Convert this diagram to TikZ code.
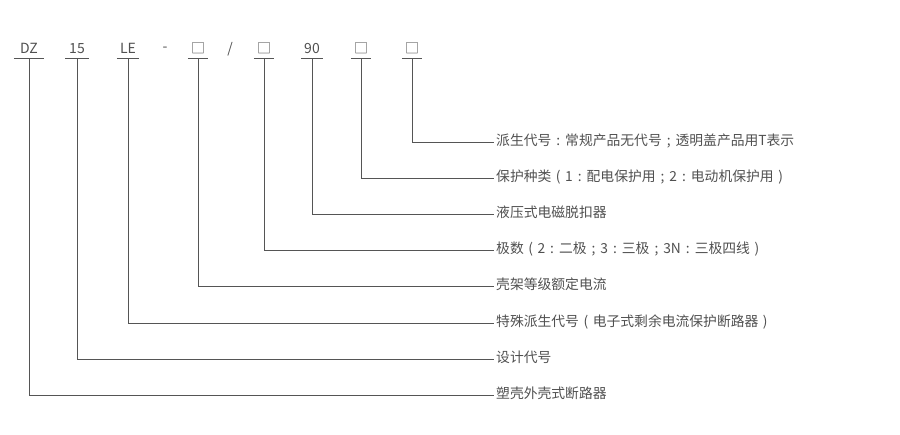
\documentclass[tikz,border=0pt]{standalone}
\usepackage{fontspec}
\setmainfont{Noto Sans CJK SC}
\definecolor{linegray}{HTML}{555555}
\definecolor{textgray}{HTML}{505050}
% 全角标点（居中）
\newcommand{\qcolon}{\makebox[1em][c]{:}}
\newcommand{\qsemi}{\makebox[1em][c]{;}}
\newcommand{\qlpar}{\makebox[1em][c]{(}}
\newcommand{\qrpar}{\makebox[1em][c]{)}}
\tikzset{
  code/.style={text=textgray, font=\fontsize{14}{16}\selectfont, text height=10pt, text depth=0pt, inner xsep=3pt, inner ysep=4pt},
  sep/.style={text=textgray, font=\fontsize{14}{16}\selectfont, inner sep=0pt},
  desc/.style={anchor=west, text=textgray, font=\fontsize{13.8}{16}\selectfont, inner sep=0pt, text height=10pt, text depth=2.5pt},
  lead/.style={draw=linegray, line width=0.9pt}
}
\begin{document}
\begin{tikzpicture}[x=1pt, y=-1pt]
    \useasboundingbox (0,0) rectangle (900,435);

    % 1. 型号各段
    \node[code, inner xsep=6pt] (dz) at (29,49) {DZ};
    \node[code, inner xsep=4pt] (frame) at (77,49) {15};
    \node[code] (le) at (128,49) {LE};
    \node[sep] (dash) at (165,49) {-};
    \node[code] (cur) at (198,49) {□};
    \node[sep] (slash) at (230,49) {/};
    \node[code] (pole) at (264,49) {□};
    \node[code] (hyd) at (312,49) {90};
    \node[code] (prot) at (361,49) {□};
    \node[code] (der) at (412,49) {□};

    % 2. 下划线
    \draw[lead] (dz.south west) -- (dz.south east);
    \draw[lead] (frame.south west) -- (frame.south east);
    \draw[lead] (le.south west) -- (le.south east);
    \draw[lead] (cur.south west) -- (cur.south east);
    \draw[lead] (pole.south west) -- (pole.south east);
    \draw[lead] (hyd.south west) -- (hyd.south east);
    \draw[lead] (prot.south west) -- (prot.south east);
    \draw[lead] (der.south west) -- (der.south east);

    % 3. 说明文字
    \node[desc] (tder) at (496,142) {派生代号\qcolon 常规产品无代号\qsemi 透明盖产品用T表示};
    \node[desc] (tprot) at (496,178) {保护种类\qlpar 1\qcolon 配电保护用\qsemi 2\qcolon 电动机保护用\qrpar};
    \node[desc] (thyd) at (496,214) {液压式电磁脱扣器};
    \node[desc] (tpole) at (496,250) {极数\qlpar 2\qcolon 二极\qsemi 3\qcolon 三极\qsemi 3N\qcolon 三极四线\qrpar};
    \node[desc] (tcur) at (496,286) {壳架等级额定电流};
    \node[desc] (tle) at (496,323) {特殊派生代号\qlpar 电子式剩余电流保护断路器\qrpar};
    \node[desc] (tframe) at (496,359) {设计代号};
    \node[desc] (tdz) at (496,395) {塑壳外壳式断路器};

    % 4. 引线
    \draw[lead] (der.south) |- ([xshift=-2pt]tder.west);
    \draw[lead] (prot.south) |- ([xshift=-2pt]tprot.west);
    \draw[lead] (hyd.south) |- ([xshift=-2pt]thyd.west);
    \draw[lead] (pole.south) |- ([xshift=-2pt]tpole.west);
    \draw[lead] (cur.south) |- ([xshift=-2pt]tcur.west);
    \draw[lead] (le.south) |- ([xshift=-2pt]tle.west);
    \draw[lead] (frame.south) |- ([xshift=-2pt]tframe.west);
    \draw[lead] (dz.south) |- ([xshift=-2pt]tdz.west);
\end{tikzpicture}
\end{document}
